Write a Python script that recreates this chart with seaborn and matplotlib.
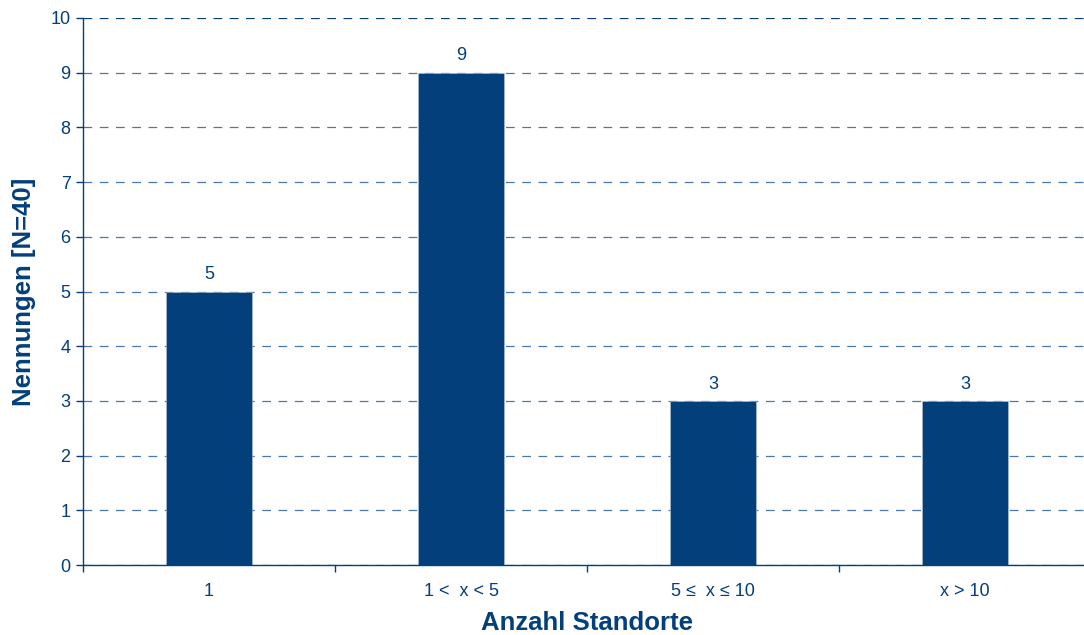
import matplotlib
matplotlib.use("Agg")
import matplotlib.pyplot as plt
import seaborn as sns
import pandas as pd

# Survey answers: number of sites per respondent
categories = ["1", "1 <  x < 5", "5 \u2264  x \u2264 10", "x > 10"]
counts = [5, 9, 3, 3]
y_ticks = list(range(0, 11))

navy = "#023f7b"
grid_blue = "#4a78aa"

sns.set_theme(style="white")
plt.rcParams["font.family"] = ["Liberation Sans", "DejaVu Sans"]

df = pd.DataFrame({"Kategorie": categories, "Nennungen": counts})

fig = plt.figure(figsize=(10.84, 6.35), dpi=100)
ax = fig.add_axes([83 / 1084, 70 / 635, 1008 / 1084, 547 / 635])

sns.barplot(data=df, x="Kategorie", y="Nennungen", color=navy, saturation=1,
            width=0.34, ax=ax, edgecolor="#b8c4d2", linewidth=0.4, zorder=3)

ax.set_xlim(-0.5, len(categories) - 0.5)
ax.set_ylim(0, 10)
ax.set_yticks(y_ticks)

# dashed horizontal grid
ax.yaxis.grid(True, color=grid_blue, linewidth=0.9, linestyle=(0, (7, 6)), zorder=0)
ax.xaxis.grid(False)
gl = ax.get_ygridlines()
gl[-1].set_color(navy)

for side in ["top", "right"]:
    ax.spines[side].set_visible(False)
for side in ["left", "bottom"]:
    ax.spines[side].set_color(navy)
    ax.spines[side].set_linewidth(1.0)
    ax.spines[side].set_zorder(4)

# category labels centred, tick marks between categories
ax.set_xticks(range(len(categories)))
ax.set_xticklabels(categories)
ax.set_xticks([i - 0.5 for i in range(len(categories))], minor=True)
ax.tick_params(axis="x", which="major", length=0, pad=13, labelsize=13, labelcolor=navy)
ax.tick_params(axis="x", which="minor", length=5, width=1, color=navy, bottom=True, direction="out")
ax.tick_params(axis="y", which="major", length=5, width=1, color=navy, left=True, direction="out",
               pad=4, labelsize=13, labelcolor=navy)

ax.bar_label(ax.containers[0], labels=[str(v) for v in counts], padding=6,
             fontsize=13, color=navy)

ax.set_xlabel("Anzahl Standorte", fontsize=18.5, fontweight="bold", color=navy, labelpad=8)
ax.set_ylabel("Nennungen [N=40]", fontsize=18.5, fontweight="bold", color=navy, labelpad=10)

fig.savefig("out.png", dpi=100)
